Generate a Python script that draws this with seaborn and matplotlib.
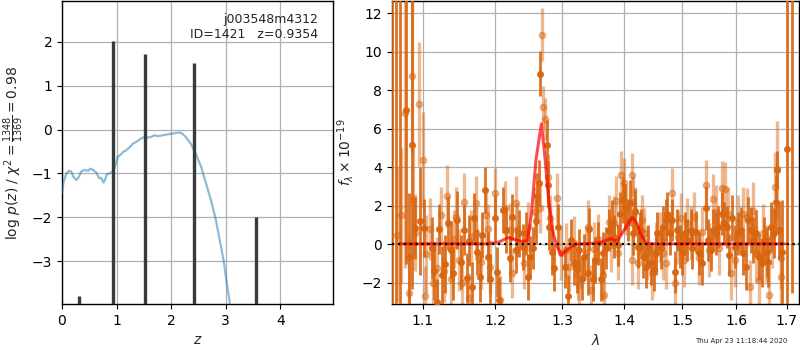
import matplotlib
matplotlib.use('Agg')
import matplotlib.pyplot as plt
import seaborn as sns
import pandas as pd
from matplotlib.ticker import FixedLocator, NullLocator, FixedFormatter

# ---------------- data: left panel (p(z)) ----------------
pz_z = [0.0, 0.03, 0.08, 0.13, 0.17, 0.21, 0.26, 0.31, 0.35, 0.41, 0.48, 0.52, 0.57, 0.63,
        0.68, 0.72, 0.76, 0.80, 0.82, 0.87, 0.93, 0.96, 0.99, 1.02, 1.07, 1.12, 1.18, 1.25,
        1.30, 1.36, 1.42, 1.48, 1.57, 1.63, 1.69, 1.77, 1.84, 1.94, 2.03, 2.12, 2.18, 2.27,
        2.36, 2.45, 2.55, 2.64, 2.73, 2.82, 2.89, 2.96, 3.02, 3.08, 3.12]
pz_logp = [-1.45, -1.19, -1.0, -0.94, -0.96, -1.08, -1.15, -1.08, -0.96, -0.92, -0.94, -0.89,
           -0.92, -0.98, -1.11, -1.10, -1.21, -1.11, -1.02, -1.0, -0.96, -0.89, -0.77, -0.62,
           -0.58, -0.51, -0.47, -0.39, -0.32, -0.28, -0.23, -0.18, -0.18, -0.17, -0.13, -0.15,
           -0.13, -0.11, -0.09, -0.07, -0.07, -0.17, -0.32, -0.55, -0.85, -1.23, -1.61, -2.06,
           -2.52, -2.97, -3.5, -3.99, -4.3]
peak_z = [0.32, 0.93, 1.53, 2.42, 3.55]
peak_logp = [-3.79, 2.02, 1.73, 1.52, -2.0]

# ---------------- data: right panel (spectrum) ----------------
dark_wave = [1.0604, 1.0655, 1.0710, 1.0779, 1.0825, 1.0864, 1.0899, 1.0965, 1.1013,
             1.1118, 1.1153, 1.1185, 1.1221, 1.1257, 1.1301, 1.1335, 1.1375, 1.1406, 1.1457,
             1.1512, 1.1561, 1.1594, 1.1626, 1.1672,
             1.1696, 1.1738, 1.1776, 1.1808, 1.1847, 1.1894, 1.1929, 1.1990, 1.2023, 1.2052,
             1.2109, 1.2157, 1.2215, 1.2245, 1.2299, 1.2343, 1.2402, 1.2451, 1.2476, 1.2511,
             1.2551, 1.2589, 1.2615, 1.2640, 1.2657, 1.2759, 1.2778, 1.2800, 1.2840, 1.2870,
             1.2928, 1.3046, 1.3083, 1.3135, 1.3187, 1.3225, 1.3266, 1.3309, 1.3346, 1.3400,
             1.3426, 1.3481, 1.3523, 1.3562, 1.3615, 1.3643, 1.3697, 1.3751, 1.3795, 1.3833,
             1.3890, 1.3928, 1.3973, 1.4017, 1.4057, 1.4096, 1.4142, 1.4176, 1.4226, 1.4265,
             1.4277, 1.4317, 1.4363, 1.4408, 1.4449, 1.4507, 1.4536, 1.4564, 1.4623, 1.4664,
             1.4711, 1.4740, 1.4782, 1.4828, 1.4876, 1.4917, 1.4959, 1.5006, 1.5055, 1.5097,
             1.5158, 1.5187, 1.5249, 1.5309, 1.5369, 1.5432, 1.5480, 1.5524, 1.5567, 1.5617,
             1.5666,
             1.5730, 1.5773, 1.5836, 1.5874, 1.5920, 1.5983, 1.6046, 1.6092, 1.6142, 1.6195,
             1.6239, 1.6286, 1.6336, 1.6389, 1.6453, 1.6500, 1.6546, 1.6599, 1.6631, 1.6680,
             1.6732, 1.6786, 1.6812, 1.6852, 1.6900, 1.7014, 1.7103]
dark_flux = [14.0, -4.5, 14.5, 6.98, -0.64, 5.16, 0.86, 1.21, 0.85,
             -0.2, -1.37, -3.0, 0.8, -1.6, -1.0, 1.1, -0.3, -1.5, 1.26,
             -0.9, 0.74, -1.75, 0.2, -2.2,
             1.35, -0.4, -1.7, 0.5, 2.82, -0.64, -1.8, 1.35, -1.42, -2.9,
             1.78, 0.74, -0.73, 1.43, -0.3, 0.57, -0.12, 0.57, -1.7, -0.64,
             -0.2, 1.2, 2.5, 3.2, 8.85, 5.16, 3.1, 0.9, -0.4, -1.2,
             0.91, -1.16, -2.7, 0.22, -0.99, -1.3, -0.3, -1.77, -0.64, -1.5,
             0.78, -1.82, -0.82, 0.05, -1.82, -0.47, -0.2, 0.74, 1.12, 0.4,
             -0.04, 1.6, 2.3, 1.95, 1.26, 2.13, 0.57, 1.75, -0.12, 0.57,
             0.74, -0.64, -1.16, -0.12, -0.99, -1.33, -0.47, 0.57, -0.2, 0.91,
             1.26, 1.6, 0.57, 1.26, -1.42, 0.74, -0.12, -0.47, 0.57, 0.22,
             0.74, -0.2, 0.65, -0.47, -0.99, 1.87, 0.22, -0.3, 0.74, 0.57,
             0.91,
             1.6, 1.09, 0.91, -0.56, 1.35, -0.12, 0.57, 0.74, -0.47, -1.16,
             1.26, 0.74, 0.22, 0.57, -0.64, -0.99, 0.22, -0.38, -0.9, 0.91,
             0.57, 2.21, 3.86, 0.74, -0.4, 4.94, 13.5]
dark_err = [20, 20, 20, 8, 3.3, 7.5, 1.6, 2.8, 1.5,
            1.6, 1.5, 1.2, 1.3, 1.5, 1.5, 1.4, 1.5, 1.4, 1.5,
            1.4, 1.3, 1.3, 1.3, 1.3,
            1.3, 1.2, 1.3, 1.2, 1.2, 1.3, 1.3, 1.2, 1.3, 1.2,
            1.2, 1.2, 1.2, 1.2, 1.2, 1.2, 1.2, 1.1, 1.2, 1.1,
            1.1, 1.2, 1.2, 1.2, 1.17, 1.3, 1.2, 1.2, 1.2, 1.2,
            1.2, 1.1, 1.1, 1.1, 1.1, 1.2, 1.1, 1.1, 1.2, 1.1,
            1.1, 1.1, 1.2, 1.1, 1.1, 1.1, 1.1, 1.1, 1.2, 1.1,
            1.1, 1.1, 1.2, 1.2, 1.1, 1.2, 1.1, 1.1, 1.1, 1.1,
            1.1, 1.1, 1.1, 1.1, 1.1, 1.1, 1.1, 1.1, 1.1, 1.1,
            1.1, 1.1, 1.1, 1.1, 1.1, 1.1, 1.1, 1.1, 1.1, 1.1,
            1.1, 1.1, 1.1, 1.1, 1.1, 1.1, 1.1, 1.1, 1.1, 1.1,
            1.1,
            1.1, 1.1, 1.1, 1.1, 1.2, 1.1, 1.1, 1.2, 1.1, 1.2,
            1.2, 1.2, 1.2, 1.2, 1.2, 1.2, 1.2, 1.3, 1.3, 1.3,
            1.3, 1.4, 1.0, 1.5, 2.7, 9.0, 16.0]

light_wave = [1.0666, 1.0718, 1.0770, 1.0825, 1.0864, 1.0880, 1.0905, 1.0955, 1.1008, 1.1030,
              1.1050, 1.1096, 1.1136, 1.1189, 1.1243, 1.1283, 1.1328, 1.1379, 1.1420, 1.1447,
              1.1488, 1.1529, 1.1561, 1.1622, 1.1654,
              1.1720, 1.1728, 1.1798, 1.1869, 1.1900, 1.1918, 1.1995, 1.2070, 1.2138, 1.2207,
              1.2245, 1.2303, 1.2310, 1.2412, 1.2476, 1.2575, 1.2652, 1.2692, 1.2695, 1.2737,
              1.2783, 1.2814,
              1.2917, 1.2979, 1.3056, 1.3108, 1.3187, 1.3241, 1.3266, 1.3373, 1.3410, 1.3453,
              1.3507, 1.3571, 1.3643, 1.3669, 1.3751, 1.3778, 1.3833, 1.3861, 1.3890, 1.3945,
              1.4001, 1.4029, 1.4130, 1.4135, 1.4152, 1.4186, 1.4226,
              1.4294, 1.4334, 1.4391, 1.4466, 1.4536, 1.4606, 1.4664, 1.4711, 1.4828, 1.4876,
              1.4935, 1.4977, 1.5036, 1.5097, 1.5158, 1.5218, 1.5297, 1.5369, 1.5443, 1.5493,
              1.5567, 1.5617, 1.5679,
              1.5730, 1.5792, 1.5855, 1.5901, 1.5983, 1.6046, 1.6142, 1.6208, 1.6272, 1.6324,
              1.6389, 1.6453, 1.6520, 1.6585, 1.6652, 1.6700, 1.6766, 1.6812, 1.6875, 1.6886]
light_flux = [0.5, 1.5, 6.8, -2.5, 8.74, 2.3, 0.6, 7.29, 4.38, -2.7,
              -0.5, 0.79, -2.0, -1.2, 1.5, -1.4, 2.5, -1.8, 0.3, 1.4,
              -0.8, -2.0, 2.2, -2.8, 0.4,
              2.13, 0.57, -0.9, 1.52, 0.78, -1.16, 2.65, -2.9, 1.87, 0.74,
              -1.5, 2.13, 0.74, -0.99, 0.91, 1.7, 1.87, 10.87, 7.12, 6.5,
              3.5, 1.35,
              2.39, -0.47, -0.3, -1.16, 0.05, -1.6, -2.1, -0.47, 0.9, -2.37,
              -0.26, 0.26, -1.6, -2.63, 1.17, -0.04, 1.12, 2.26, -0.47, 3.62,
              3.2, 1.78, 3.62, -0.82, 2.2, 1.7, -0.99,
              1.26, 0.57, -0.47, -1.5, -0.12, 0.4, -0.47, -0.99, 2.65, -2.0,
              0.4, 1.35, -0.82, 1.09, 0.57, 1.43, -0.73, 0.65, 3.06, -0.3,
              2.34, 1.7, -0.2,
              2.91, 2.86, 1.6, -1.5, -0.82, 1.17, 1.6, 1.43, -2.2, 1.75,
              -0.47, -1.85, 0.57, -0.47, -2.63, 0.4, 3.0, 3.9, -1.68, -0.73]
light_err = [3.5, 3.5, 8, 3, 4, 3, 2, 3.2, 2.5, 1.6,
             2, 1.6, 1.8, 1.6, 1.5, 1.6, 1.6, 1.5, 1.5, 1.6,
             1.6, 1.5, 1.5, 1.3, 1.4,
             1.4, 1.4, 1.4, 1.4, 1.3, 1.4, 1.3, 1.3, 1.4, 1.4,
             1.3, 1.4, 1.4, 1.3, 1.3, 1.3, 1.3, 1.38, 1.1, 1.1,
             1.2, 1.2,
             1.3, 1.4, 1.4, 1.3, 1.4, 1.3, 1.3, 1.4, 1.4, 1.3,
             1.4, 1.3, 1.3, 1.3, 1.4, 1.4, 1.4, 1.3, 1.4, 1.2,
             1.3, 1.3, 1.1, 1.3, 1.3, 1.3, 1.3,
             1.3, 1.3, 1.4, 1.4, 1.3, 1.3, 1.4, 1.3, 1.3, 1.3,
             1.4, 1.3, 1.4, 1.3, 1.4, 1.3, 1.4, 1.3, 1.3, 1.4,
             1.3, 1.4, 1.4,
             1.4, 1.4, 1.4, 1.4, 1.4, 1.4, 1.4, 1.5, 1.4, 1.5,
             1.5, 1.5, 1.5, 1.5, 1.5, 1.6, 1.8, 2.5, 1.5, 1.6]

model_wave = [1.0705, 1.190, 1.205, 1.218, 1.2393, 1.2470, 1.2528, 1.2596, 1.2677, 1.2721,
              1.2789, 1.2858, 1.2910, 1.2977, 1.3108, 1.3198, 1.3587, 1.3776, 1.3877, 1.3961,
              1.4130, 1.4214, 1.4270, 1.4374, 1.696]
model_flux = [0.03, 0.03, 0.12, 0.35, 0.14, 0.2, 1.6, 4.4, 6.25, 4.9,
              2.3, 0.58, -0.04, -0.55, -0.2, 0.0, 0.08, 0.3, 0.14, 0.57,
              1.4, 1.09, 0.57, 0.03, 0.03]

obj_name = "j003548m4312"
obj_info = "ID=1421   z=0.9354"
timestamp = "Thu Apr 23 11:18:44 2020"
spec_ticks = [1.1, 1.2, 1.3, 1.4, 1.5, 1.6, 1.7]

# ---------------- plotting ----------------
sns.set_style('ticks')
plt.rcParams['font.family'] = ['DejaVu Sans']
plt.rcParams['axes.edgecolor'] = 'black'
plt.rcParams['axes.linewidth'] = 1.0
plt.rcParams['xtick.color'] = 'black'
plt.rcParams['ytick.color'] = 'black'

fig = plt.figure(figsize=(8, 3.5), dpi=100)
ax1 = fig.add_axes([0.0775, 0.131, 0.339, 0.866])
ax2 = fig.add_axes([0.490, 0.131, 0.509, 0.866])

gridkw = dict(color='#b0b0b0', lw=0.9)

# left panel
pz_df = pd.DataFrame({'z': pz_z, 'logp': pz_logp})
sns.lineplot(data=pz_df, x='z', y='logp', ax=ax1, color='#1f77b4', alpha=0.5, lw=1.6,
             zorder=3)
ax1.vlines(peak_z, -5, peak_logp, color='#3a3a3a', lw=2.4, zorder=4)
ax1.set_xlim(0, 4.97)
ax1.set_ylim(-3.98, 2.93)
ax1.set_xticks([0, 1, 2, 3, 4])
ax1.set_yticks([-3, -2, -1, 0, 1, 2])
ax1.grid(True, **gridkw)
ax1.set_axisbelow(True)
ax1.set_xlabel('$z$', fontsize=10)
ax1.set_ylabel(r'log $p(z)$ / $\chi^2=\frac{1348}{1369}=0.98$', fontsize=10)
ax1.text(0.945, 0.962, obj_name + '\n' + obj_info, transform=ax1.transAxes,
         ha='right', va='top', fontsize=9, linespacing=1.2)
for s in ax1.spines.values():
    s.set_visible(True)

# right panel
col = '#d8650f'
ax2.errorbar(light_wave, light_flux, yerr=light_err, fmt='o', color=col, alpha=0.45,
             ms=4.5, elinewidth=2.4, capsize=0, zorder=2)
ax2.errorbar(dark_wave, dark_flux, yerr=dark_err, fmt='o', color=col, alpha=0.9,
             ms=4.0, elinewidth=2.0, capsize=0, zorder=3)
model_df = pd.DataFrame({'wave': model_wave, 'flux': model_flux})
sns.lineplot(data=model_df, x='wave', y='flux', ax=ax2, color='red', alpha=0.7, lw=2.2,
             zorder=5)
ax2.axhline(0, color='black', ls=':', lw=1.6, zorder=6)
ax2.set_xscale('log')
ax2.set_xlim(1.0604, 1.7254)
ax2.set_ylim(-3.1, 12.62)
ax2.xaxis.set_major_locator(FixedLocator(spec_ticks))
ax2.xaxis.set_major_formatter(FixedFormatter([f'{t:.1f}' for t in spec_ticks]))
ax2.xaxis.set_minor_locator(NullLocator())
ax2.set_yticks([-2, 0, 2, 4, 6, 8, 10, 12])
ax2.grid(True, **gridkw)
ax2.set_axisbelow(True)
ax2.set_xlabel(r'$\lambda$', fontsize=10)
ax2.set_ylabel(r'$f_\lambda \times 10^{-19}$', fontsize=10)
for s in ax2.spines.values():
    s.set_visible(True)

fig.text(0.984, 0.018, timestamp, ha='right', va='bottom', fontsize=5)

fig.savefig('out.png', dpi=100)
